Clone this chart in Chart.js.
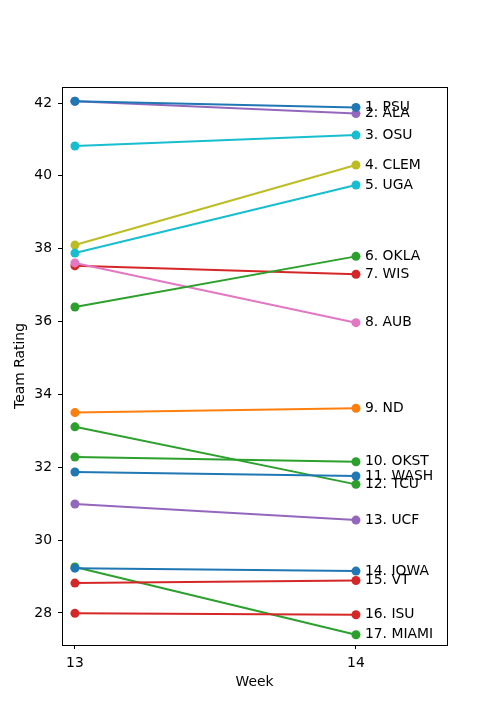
<!DOCTYPE html>
<html>
<head>
<meta charset="utf-8">
<script src="https://cdn.jsdelivr.net/npm/chart.js@4"></script>
<style>
  html, body { margin: 0; padding: 0; background: #fff; }
  #wrap { width: 497px; height: 726px; }
</style>
</head>
<body>
<div id="wrap"><canvas id="ratings" width="497" height="726"></canvas></div>
<script>
const weeks = [13, 14];
const teams = ["1. PSU", "2. ALA", "3. OSU", "4. CLEM", "5. UGA", "6. OKLA", "7. WIS", "8. AUB", "9. ND",
  "10. OKST", "11. WASH", "12. TCU", "13. UCF", "14. IOWA", "15. VT", "16. ISU", "17. MIAMI"];
const week13 = [42.05, 42.05, 40.82, 38.10, 37.88, 36.40, 37.53, 37.61, 33.50,
  32.28, 31.87, 33.11, 30.99, 29.23, 28.82, 27.99, 29.26];
const week14 = [41.88, 41.71, 41.12, 40.30, 39.75, 37.79, 37.30, 35.97, 33.62,
  32.15, 31.76, 31.53, 30.55, 29.15, 28.89, 27.95, 27.40];
const yTicks = [28, 30, 32, 34, 36, 38, 40, 42];

const colors = ["#1f77b4", "#9467bd", "#17becf", "#bcbd22", "#17becf", "#2ca02c", "#d62728", "#e377c2", "#ff7f0e",
  "#2ca02c", "#1f77b4", "#2ca02c", "#9467bd", "#1f77b4", "#d62728", "#d62728", "#2ca02c"];
// lower = drawn later (on top)
const drawOrder = [0, 1, 2, 4, 3, 5, 7, 6, 8, 9, 10, 11, 12, 13, 14, 15, 16];

const FONT = "'DejaVu Sans', sans-serif";
Chart.defaults.font.family = FONT;
Chart.defaults.font.size = 13.9;
Chart.defaults.color = "#000";

const datasets = teams.map((t, i) => ({
  label: t,
  data: weeks.map((w, j) => ({ x: w, y: j === 0 ? week13[i] : week14[i] })),
  borderColor: colors[i],
  backgroundColor: colors[i],
  borderWidth: 2,
  pointRadius: 4.5,
  pointHoverRadius: 4.5,
  pointBorderWidth: 0,
  showLine: true,
  order: drawOrder[i],
}));

// team names to the right of the week 14 points, plus the axes frame
const endLabels = {
  id: "endLabels",
  afterDatasetsDraw(chart) {
    const ctx = chart.ctx;
    ctx.save();
    ctx.font = "13.9px " + FONT;
    ctx.fillStyle = "#000";
    ctx.textBaseline = "middle";
    ctx.textAlign = "left";
    chart.data.datasets.forEach((ds, i) => {
      const pt = chart.getDatasetMeta(i).data[1];
      ctx.fillText(ds.label, pt.x + 9, pt.y);
    });
    const a = chart.chartArea;
    ctx.strokeStyle = "#000";
    ctx.lineWidth = 1;
    ctx.strokeRect(Math.round(a.left) + 0.5, Math.round(a.top) + 0.5,
      Math.round(a.right - a.left), Math.round(a.bottom - a.top));
    ctx.restore();
  }
};

new Chart(document.getElementById("ratings"), {
  type: "scatter",
  data: { datasets },
  plugins: [endLabels],
  options: {
    responsive: false,
    animation: false,
    layout: { padding: { left: 0, top: 87, right: 50, bottom: 0 } },
    plugins: { legend: { display: false }, tooltip: { enabled: false } },
    scales: {
      x: {
        type: "linear",
        min: 12.954,
        max: 14.324,
        afterFit(s) { s.height = 81; },
        afterBuildTicks(s) { s.ticks = weeks.map(v => ({ value: v })); },
        ticks: { padding: 6, callback: v => String(v) },
        grid: { drawOnChartArea: false, drawTicks: true, tickLength: 4, color: "#000" },
        border: { color: "#000" },
        title: { display: true, text: "Week", padding: { top: 0, bottom: 35.6 } }
      },
      y: {
        min: 27.12,
        max: 42.44,
        afterFit(s) { s.width = 62; },
        afterBuildTicks(s) { s.ticks = yTicks.map(v => ({ value: v })); },
        ticks: { padding: 6, callback: v => String(v) },
        grid: { drawOnChartArea: false, drawTicks: true, tickLength: 4, color: "#000" },
        border: { color: "#000" },
        title: { display: true, text: "Team Rating", padding: { top: 12.5, bottom: 0 } }
      }
    }
  }
});
</script>
</body>
</html>
